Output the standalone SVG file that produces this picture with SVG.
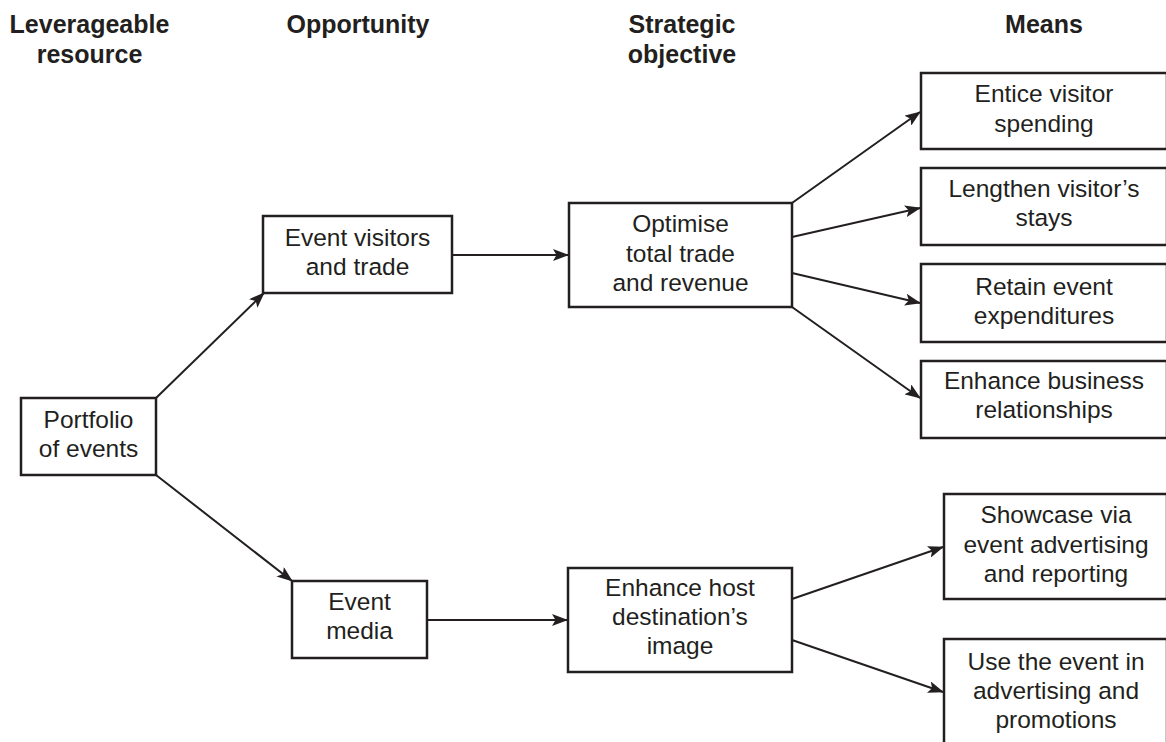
<svg xmlns="http://www.w3.org/2000/svg" width="1166" height="742" viewBox="0 0 1166 742">
  <defs>
    <marker id="arrow" viewBox="0 0 16 12" refX="15" refY="6" markerWidth="16" markerHeight="12" markerUnits="userSpaceOnUse" orient="auto">
      <path d="M0,0 L16,6 L0,12 L3.5,6 z" fill="#231f20"/>
    </marker>
  </defs>
  <style>
    .box { fill: #ffffff; stroke: #231f20; stroke-width: 2.5; }
    .lbl { font-family: "Liberation Sans", Arial, sans-serif; font-size: 24.5px; fill: #231f20; text-anchor: middle; }
    .head { font-family: "Liberation Sans", Arial, sans-serif; font-size: 25px; font-weight: bold; fill: #231f20; text-anchor: middle; }
    .conn { stroke: #231f20; stroke-width: 2; fill: none; marker-end: url(#arrow); }
  </style>
  <rect width="1166" height="742" fill="#ffffff"/>

  <!-- column headings -->
  <g id="headings">
    <text class="head" x="89.5" y="33">Leverageable</text>
    <text class="head" x="89.5" y="63">resource</text>
    <text class="head" x="358" y="33">Opportunity</text>
    <text class="head" x="682" y="33">Strategic</text>
    <text class="head" x="682" y="63">objective</text>
    <text class="head" x="1044" y="33">Means</text>
  </g>

  <!-- connectors -->
  <g id="connectors">
    <line class="conn" x1="156" y1="398" x2="264" y2="293"/>
    <line class="conn" x1="156" y1="475" x2="292" y2="581"/>
    <line class="conn" x1="452" y1="255" x2="568" y2="255"/>
    <line class="conn" x1="427" y1="620" x2="567" y2="620"/>
    <line class="conn" x1="792" y1="203" x2="920" y2="112"/>
    <line class="conn" x1="792" y1="237" x2="920" y2="208"/>
    <line class="conn" x1="792" y1="273" x2="920" y2="303"/>
    <line class="conn" x1="792" y1="307" x2="920" y2="398"/>
    <line class="conn" x1="792" y1="599" x2="943" y2="547"/>
    <line class="conn" x1="792" y1="640" x2="943" y2="692"/>
  </g>

  <g id="portfolio">
    <rect class="box" x="21" y="398" width="135" height="77"/>
    <text class="lbl" x="88.5" y="428">Portfolio</text>
    <text class="lbl" x="88.5" y="457">of events</text>
  </g>

  <g id="event-visitors">
    <rect class="box" x="263" y="216" width="189" height="77"/>
    <text class="lbl" x="357.5" y="246">Event visitors</text>
    <text class="lbl" x="357.5" y="275">and trade</text>
  </g>

  <g id="event-media">
    <rect class="box" x="292" y="581" width="135" height="77"/>
    <text class="lbl" x="359.5" y="610">Event</text>
    <text class="lbl" x="359.5" y="639">media</text>
  </g>

  <g id="optimise">
    <rect class="box" x="569" y="203" width="223" height="104"/>
    <text class="lbl" x="680.5" y="232">Optimise</text>
    <text class="lbl" x="680.5" y="261.5">total trade</text>
    <text class="lbl" x="680.5" y="291">and revenue</text>
  </g>

  <g id="enhance-image">
    <rect class="box" x="568" y="568" width="224" height="104"/>
    <text class="lbl" x="680" y="596">Enhance host</text>
    <text class="lbl" x="680" y="625">destination’s</text>
    <text class="lbl" x="680" y="654">image</text>
  </g>

  <g id="entice">
    <rect class="box" x="921" y="73" width="246" height="76"/>
    <text class="lbl" x="1044" y="102">Entice visitor</text>
    <text class="lbl" x="1044" y="131.5">spending</text>
  </g>

  <g id="lengthen">
    <rect class="box" x="921" y="168" width="246" height="77"/>
    <text class="lbl" x="1044" y="197">Lengthen visitor’s</text>
    <text class="lbl" x="1044" y="226">stays</text>
  </g>

  <g id="retain">
    <rect class="box" x="921" y="264" width="246" height="78"/>
    <text class="lbl" x="1044" y="294.5">Retain event</text>
    <text class="lbl" x="1044" y="323.5">expenditures</text>
  </g>

  <g id="business">
    <rect class="box" x="921" y="361" width="246" height="77"/>
    <text class="lbl" x="1044" y="389">Enhance business</text>
    <text class="lbl" x="1044" y="418">relationships</text>
  </g>

  <g id="showcase">
    <rect class="box" x="944" y="494" width="223" height="105"/>
    <text class="lbl" x="1056" y="523">Showcase via</text>
    <text class="lbl" x="1056" y="552.5">event advertising</text>
    <text class="lbl" x="1056" y="582">and reporting</text>
  </g>

  <g id="use-event">
    <rect class="box" x="944" y="639" width="223" height="110"/>
    <text class="lbl" x="1056" y="670">Use the event in</text>
    <text class="lbl" x="1056" y="698.5">advertising and</text>
    <text class="lbl" x="1056" y="728">promotions</text>
  </g>
</svg>
